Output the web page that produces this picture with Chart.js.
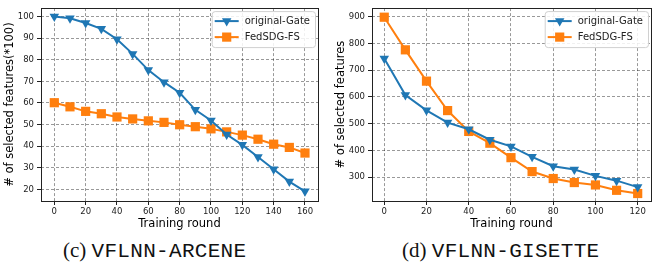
<!DOCTYPE html>
<html>
<head>
<meta charset="utf-8">
<script src="https://cdn.jsdelivr.net/npm/chart.js@4/dist/chart.umd.min.js"></script>
<style>
  html, body { margin: 0; padding: 0; background: #fff; }
  #wrap { position: relative; width: 662px; height: 268px; overflow: hidden; }
  .box { position: absolute; top: 0; width: 331px; height: 232px; }
  .cap { position: absolute; top: 238px; white-space: nowrap; color: #111; }
  .cap .s { font-family: "Liberation Serif", serif; font-size: 21px; }
  .cap .m { font-family: "Liberation Mono", monospace; font-size: 21px; letter-spacing: 0.3px; }
</style>
</head>
<body>
<div id="wrap">
  <div class="box" style="left:0"><canvas id="arcene" width="331" height="232"></canvas></div>
  <div class="box" style="left:331px"><canvas id="gisette" width="331" height="232"></canvas></div>
  <div class="cap" style="left:63px"><span class="s">(c) </span><span class="m">VFLNN-ARCENE</span></div>
  <div class="cap" style="left:402px"><span class="s">(d) </span><span class="m">VFLNN-GISETTE</span></div>
</div>
<script>
// series names
var seriesNames = ['original-Gate', 'FedSDG-FS'];

// (c) VFLNN-ARCENE
var roundsArcene = [0, 10, 20, 30, 40, 50, 60, 70, 80, 90, 100, 110, 120, 130, 140, 150, 160];
var gateArcene = [100, 99.2, 97, 94.3, 89.5, 82.7, 75.2, 69.6, 64.7, 56.8, 51.9, 45.4, 40.6, 35, 29.3, 23.6, 19.1];
var fedArcene = [60.1, 58.2, 56.1, 55, 53.5, 52.6, 51.7, 51, 49.9, 49, 48, 46.6, 45.1, 43.2, 40.9, 39.4, 36.8];
var xTicksArcene = [0, 20, 40, 60, 80, 100, 120, 140, 160];
var yTicksArcene = [20, 30, 40, 50, 60, 70, 80, 90, 100];

// (d) VFLNN-GISETTE
var roundsGisette = [0, 10, 20, 30, 40, 50, 60, 70, 80, 90, 100, 110, 120];
var gateGisette = [744, 607, 550, 504, 479, 440, 415, 376, 341, 329, 305, 287, 263];
var fedGisette = [898, 776, 659, 549, 471, 427, 373, 321, 295, 280, 271, 251, 239];
var xTicksGisette = [0, 20, 40, 60, 80, 100, 120];
var yTicksGisette = [300, 400, 500, 600, 700, 800, 900];

var BLUE = '#1f77b4';
var ORANGE = '#ff7f0e';
var FONT = '"DejaVu Sans", sans-serif';

function toPoints(xs, ys) {
  return xs.map(function(x, i) { return { x: x, y: ys[i] }; });
}

function drawMarker(ctx, style, x, y, r) {
  ctx.beginPath();
  if (style === 'triangle') {
    // pointing down
    ctx.moveTo(x - r * 0.866, y - r * 0.5);
    ctx.lineTo(x + r * 0.866, y - r * 0.5);
    ctx.lineTo(x, y + r);
  } else {
    var h = r * 0.707;
    ctx.rect(x - h, y - h, 2 * h, 2 * h);
  }
  ctx.closePath();
  ctx.fill();
}

// frame round the plot + legend in the upper right corner
var framePlugin = {
  id: 'frame',
  afterDraw: function(chart) {
    var ctx = chart.ctx, a = chart.chartArea;
    ctx.save();
    ctx.strokeStyle = '#222';
    ctx.lineWidth = 1;
    ctx.strokeRect(Math.round(a.left) + 0.5, Math.round(a.top) + 0.5,
                   Math.round(a.right - a.left), Math.round(a.bottom - a.top));

    ctx.font = '10px ' + FONT;
    var ds = chart.data.datasets;
    var tw = 0;
    ds.forEach(function(d) { tw = Math.max(tw, ctx.measureText(d.label).width); });
    var lineLen = 24, gap = 6, padL = 3, padR = 5, rowH = 16;
    var w = padL + lineLen + gap + tw + padR;
    var h = rowH * ds.length + 4;
    var bx = a.right - 3 - w, by = a.top + 3;

    ctx.fillStyle = 'rgba(255,255,255,0.85)';
    ctx.strokeStyle = '#d0d0d0';
    ctx.beginPath();
    ctx.roundRect(bx + 0.5, by + 0.5, w, h, 3);
    ctx.fill();
    ctx.stroke();

    ds.forEach(function(d, i) {
      var cy = by + 2 + rowH * i + rowH / 2;
      var lx = bx + padL;
      ctx.strokeStyle = d.borderColor;
      ctx.lineWidth = 2;
      ctx.beginPath();
      ctx.moveTo(lx, cy);
      ctx.lineTo(lx + lineLen, cy);
      ctx.stroke();
      ctx.fillStyle = d.borderColor;
      drawMarker(ctx, d.pointStyle, lx + lineLen / 2, cy, d.pointRadius);
      ctx.fillStyle = '#222';
      ctx.textAlign = 'left';
      ctx.textBaseline = 'middle';
      ctx.fillText(d.label, lx + lineLen + gap, cy + 0.5);
    });
    ctx.restore();
  }
};

function makeChart(id, rounds, gate, fed, xTicks, yTicks, xRange, yRange, yTitle, rightPad) {
  var fixTicks = function(list) {
    return function(scale) { scale.ticks = list.map(function(v) { return { value: v }; }); };
  };
  return new Chart(document.getElementById(id), {
    type: 'line',
    data: {
      datasets: [{
        label: seriesNames[0],
        data: toPoints(rounds, gate),
        borderColor: BLUE,
        backgroundColor: BLUE,
        borderWidth: 2,
        pointStyle: 'triangle',
        rotation: 180,
        pointRadius: 5.5,
        pointBorderWidth: 0,
        tension: 0
      }, {
        label: seriesNames[1],
        data: toPoints(rounds, fed),
        borderColor: ORANGE,
        backgroundColor: ORANGE,
        borderWidth: 2,
        pointStyle: 'rect',
        pointRadius: 6.5,
        pointBorderWidth: 0,
        tension: 0
      }]
    },
    options: {
      responsive: false,
      animation: false,
      layout: { padding: { top: 3, right: rightPad, left: 0, bottom: 0 } },
      plugins: {
        legend: { display: false },
        tooltip: { enabled: false }
      },
      scales: {
        x: {
          type: 'linear',
          min: xRange[0],
          max: xRange[1],
          afterBuildTicks: fixTicks(xTicks),
          afterFit: function(scale) { scale.height = 31; },
          grid: { color: 'rgba(0,0,0,0.5)', lineWidth: 0.8, tickLength: 4, tickColor: '#222', tickWidth: 1, tickBorderDash: [] },
          border: { display: false, dash: [3, 2] },
          ticks: { color: '#222', padding: 2, maxRotation: 0, font: { family: FONT, size: 8.5 } },
          title: { display: true, text: 'Training round', color: '#000', padding: { top: 0, bottom: 1 }, font: { family: FONT, size: 11.5 } }
        },
        y: {
          type: 'linear',
          min: yRange[0],
          max: yRange[1],
          afterBuildTicks: fixTicks(yTicks),
          afterFit: function(scale) { scale.width = 41; },
          grid: { color: 'rgba(0,0,0,0.5)', lineWidth: 0.8, tickLength: 4, tickColor: '#222', tickWidth: 1, tickBorderDash: [] },
          border: { display: false, dash: [3, 2] },
          ticks: { color: '#222', padding: 3, font: { family: FONT, size: 8.5 } },
          title: { display: true, text: yTitle, color: '#000', padding: { top: 3, bottom: 0 }, font: { family: FONT, size: 11.5 } }
        }
      }
    },
    plugins: [framePlugin]
  });
}

makeChart('arcene', roundsArcene, gateArcene, fedArcene, xTicksArcene, yTicksArcene,
          [-8.5, 168.3], [14.6, 103.9], '# of selected features(*100)', 13);
makeChart('gisette', roundsGisette, gateGisette, fedGisette, xTicksGisette, yTicksGisette,
          [-5.8, 126.3], [211, 932], '# of selected features', 11);
</script>
</body>
</html>
